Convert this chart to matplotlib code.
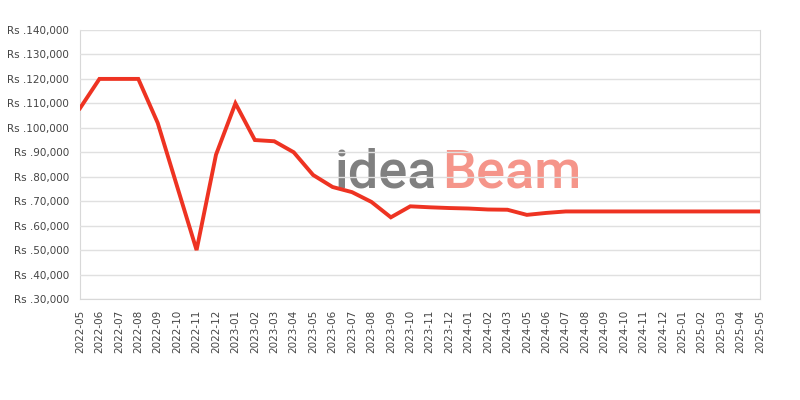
import matplotlib
matplotlib.use("Agg")
import matplotlib.pyplot as plt
from matplotlib.ticker import FuncFormatter, MultipleLocator

# 月份标签 (没有 2024-04)
months = ['2022-05', '2022-06', '2022-07', '2022-08', '2022-09', '2022-10',
          '2022-11', '2022-12', '2023-01', '2023-02', '2023-03', '2023-04',
          '2023-05', '2023-06', '2023-07', '2023-08', '2023-09', '2023-10',
          '2023-11', '2023-12', '2024-01', '2024-02', '2024-03', '2024-05',
          '2024-06', '2024-07', '2024-08', '2024-09', '2024-10', '2024-11',
          '2024-12', '2025-01', '2025-02', '2025-03', '2025-04', '2025-05']

prices = [108000, 120000, 120000, 120000, 102000, 76000,
          50000, 89000, 110000, 95000, 94500, 90000,
          80700, 75800, 73700, 69700, 63400, 67900,
          67500, 67200, 67000, 66600, 66500, 64400,
          65200, 65800, 65800, 65800, 65800, 65800,
          65800, 65800, 65800, 65800, 65800, 65800]

fig = plt.figure(figsize=(8, 4), dpi=100)
ax = fig.add_axes([0.1, 0.2525, 0.85, 0.6725])

x = list(range(len(months)))
ax.plot(x, prices, color='#ee3322', linewidth=2.8, zorder=3, solid_joinstyle='miter')

# 水印
t1 = ax.text(0.375, 0.413, 'idea', transform=ax.transAxes, fontsize=39, color='#808080',
             family='Roboto', fontweight='medium', ha='left', va='baseline', zorder=1)
ax.annotate('Beam', xy=(1, 0), xycoords=t1, xytext=(3, 0), textcoords='offset points',
            fontsize=39, color='#f5958a', family='Roboto', fontweight='medium',
            ha='left', va='bottom', zorder=1)

ax.set_xlim(0, len(months) - 1)
ax.set_ylim(30000, 140000)
ax.yaxis.set_major_locator(MultipleLocator(10000))
ax.yaxis.set_major_formatter(FuncFormatter(lambda v, p: 'Rs .{:,.0f}'.format(v)))
ax.set_xticks(x)
ax.set_xticklabels(months, rotation=90)

ax.grid(True, axis='y', color='#e0e0e0', linewidth=1, zorder=2)
ax.set_axisbelow(False)
for s in ['left', 'bottom', 'right']:
    ax.spines[s].set_color('#d8d8d8')
ax.spines['top'].set_visible(False)
ax.tick_params(axis='both', length=0, labelsize=7.5, labelcolor='#444444', pad=8)

fig.savefig('out.png', dpi=100)
